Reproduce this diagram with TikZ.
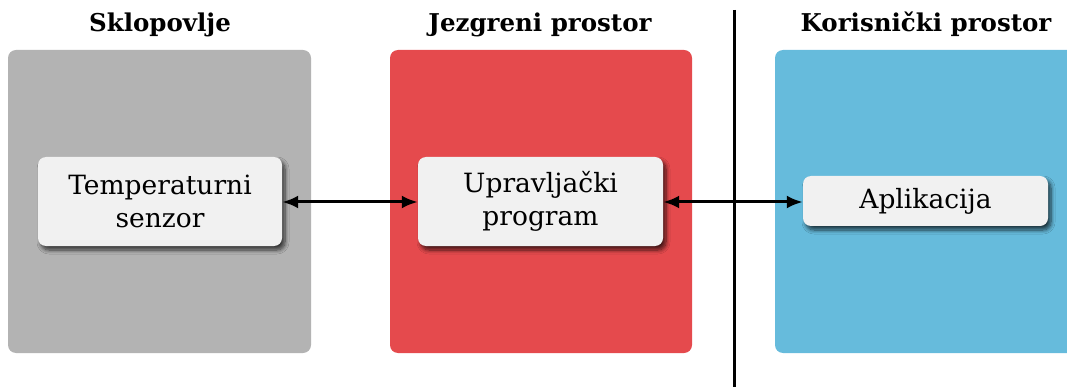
\documentclass[tikz,border=0pt]{standalone}
\usepackage{fontspec}
\setmainfont{DejaVu Serif}
\usetikzlibrary{arrows.meta,shadows.blur}
\definecolor{hwgray}{RGB}{179,179,179}
\definecolor{kernred}{RGB}{229,74,77}
\definecolor{userblue}{RGB}{102,187,220}
\definecolor{boxfill}{RGB}{241,241,241}
\tikzset{
  panel/.style={rounded corners=8pt, draw=none},
  title/.style={font=\fontsize{24.5}{30}\selectfont\bfseries, anchor=base},
  block/.style={rounded corners=8pt, fill=boxfill, draw=none, align=center,
    font=\fontsize{26.5}{33}\selectfont, inner sep=0pt,
    blur shadow={shadow xshift=3pt, shadow yshift=-4pt, shadow blur radius=4pt, shadow blur steps=8, shadow opacity=70}},
  link/.style={line width=3pt, {Latex[length=16pt,width=13pt]}-{Latex[length=16pt,width=13pt]}}
}
\begin{document}
\begin{tikzpicture}[x=1pt,y=-1pt]
  \useasboundingbox (0,0) rectangle (1067,387);
  \begin{scope}
    \clip (0,0) rectangle (1067,387);
    \fill[panel, hwgray] (8,50) rectangle (311,353);
    \fill[panel, kernred] (390,50) rectangle (692,353);
    \fill[panel, userblue] (775,50) rectangle (1078,353);
  \end{scope}
  \draw[line width=3pt] (734,10) -- (734,387);

  \node[title] (t1) at (160,32) {Sklopovlje};
  \node[title] (t2) at (540,32) {Jezgreni prostor};
  \node[title] (t3) at (926,32) {Korisnički prostor};

  \node[block, minimum width=244pt, minimum height=89pt] (sensor) at (160,201.5) {Temperaturni\\senzor};
  \node[block, minimum width=245pt, minimum height=89pt] (driver) at (540.5,201.5) {Upravljački\\program};
  \node[block, minimum width=245pt, minimum height=50pt] (app) at (925.5,201) {Aplikacija};

  \draw[link] (sensor.east |- 0,202) -- (driver.west |- 0,202);
  \draw[link] (driver.east |- 0,202) -- (app.west |- 0,202);
\end{tikzpicture}
\end{document}
